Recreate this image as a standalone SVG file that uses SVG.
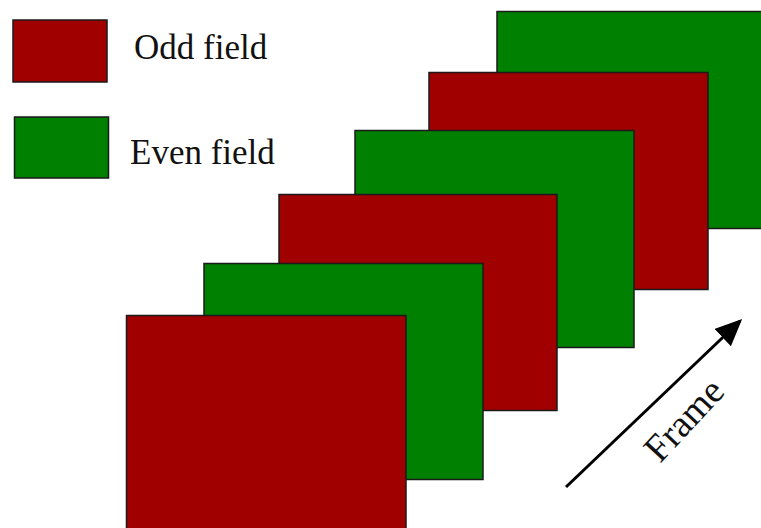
<svg xmlns="http://www.w3.org/2000/svg" width="761" height="528" viewBox="0 0 761 528">
<style>
.odd{fill:#a00000;stroke:#1a1a1a;stroke-width:1.5}
.even{fill:#008000;stroke:#1a1a1a;stroke-width:1.5}
.lbl{font-family:"Liberation Serif","Times New Roman",serif;font-size:35px;fill:#111}
.frm{font-size:38px}
</style>
<defs>
<marker id="ah" markerWidth="9" markerHeight="8" refX="8" refY="4" orient="auto" markerUnits="strokeWidth">
<path d="M0,0 L9,4 L0,8 Z" fill="#000"/>
</marker>
</defs>
<g id="legend-odd">
<rect class="odd" x="13" y="20" width="94" height="62"/>
<text class="lbl" x="134" y="59">Odd field</text>
</g>
<g id="legend-even">
<rect class="even" x="14.5" y="117" width="94" height="61"/>
<text class="lbl" x="130" y="164">Even field</text>
</g>
<g id="field6"><rect class="even" x="497" y="11.5" width="270" height="217"/></g>
<g id="field5"><rect class="odd" x="429" y="72.5" width="279" height="217"/></g>
<g id="field4"><rect class="even" x="355" y="130.5" width="279" height="217"/></g>
<g id="field3"><rect class="odd" x="279" y="194.5" width="278" height="216"/></g>
<g id="field2"><rect class="even" x="204" y="263.5" width="279" height="216"/></g>
<g id="field1"><rect class="odd" x="126.5" y="315.5" width="279.5" height="220"/></g>
<g id="connectors">
<line x1="566" y1="487" x2="740" y2="321" stroke="#000" stroke-width="3" marker-end="url(#ah)"/>
</g>
<g id="frame-label">
<text class="lbl frm" transform="translate(660,464) rotate(-47)">Frame</text>
</g>
</svg>
